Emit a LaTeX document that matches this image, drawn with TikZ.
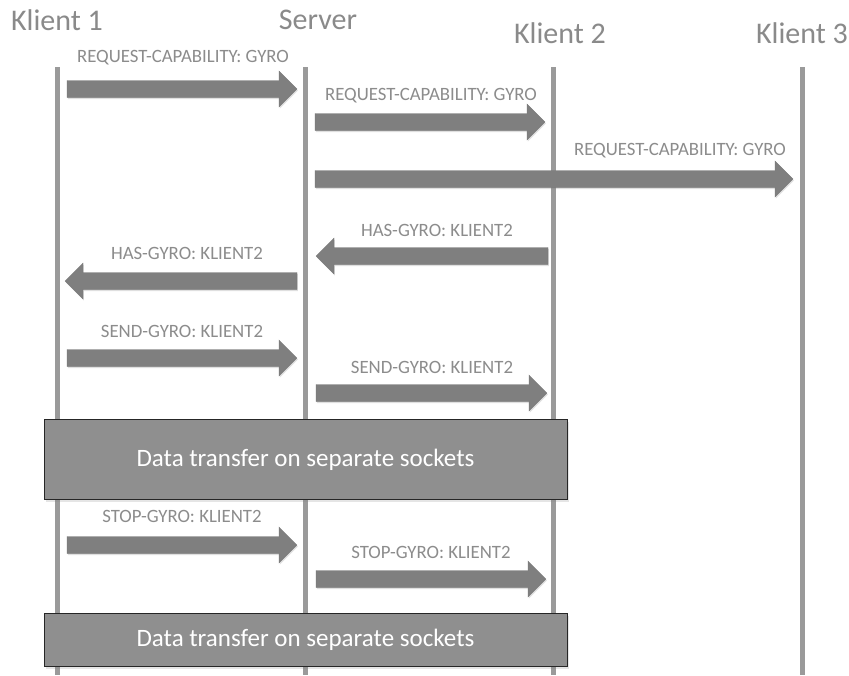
\documentclass[tikz,border=0pt]{standalone}
\usepackage{fontspec}
\setmainfont{Carlito}
\usetikzlibrary{shadows}
\definecolor{lifegray}{HTML}{9A9A9A}
\definecolor{headgray}{HTML}{8A8A8A}
\definecolor{msggray}{HTML}{8C8C8C}
\definecolor{arrowgray}{HTML}{7F7F7F}
\definecolor{boxgray}{HTML}{8F8F8F}
\tikzset{
  lifeline/.style={draw=lifegray, line width=5pt},
  header/.style={text=headgray, font=\fontsize{30}{33}\selectfont, inner sep=0pt},
  msglabel/.style={text=msggray, font=\fontsize{18.8}{21}\selectfont, inner sep=0pt},
  blockarrow/.style={fill=arrowgray, draw=arrowgray!90!black, line width=0.3pt,
    drop shadow={shadow xshift=0.8pt, shadow yshift=-1.5pt, opacity=0.25}},
  phasebox/.style={fill=boxgray, draw=black!85, line width=1pt,
    text=white, font=\fontsize{25}{28}\selectfont,
    drop shadow={shadow xshift=2pt, shadow yshift=-2pt, opacity=0.2}},
}
% right-pointing block arrow: start x, tip x, centre y
\newcommand{\rblock}[3]{%
  \path[blockarrow] (#1,{#3-8.5}) -- ({#2-18},{#3-8.5}) -- ({#2-18},{#3-18})
    -- (#2,#3) -- ({#2-18},{#3+18}) -- ({#2-18},{#3+8.5}) -- (#1,{#3+8.5}) -- cycle;}
% left-pointing block arrow: start x, tip x, centre y
\newcommand{\lblock}[3]{%
  \path[blockarrow] (#1,{#3-8.5}) -- ({#2+18},{#3-8.5}) -- ({#2+18},{#3-18})
    -- (#2,#3) -- ({#2+18},{#3+18}) -- ({#2+18},{#3+8.5}) -- (#1,{#3+8.5}) -- cycle;}
\begin{document}
\begin{tikzpicture}[x=1pt, y=-1pt]
\useasboundingbox[fill=white] (0,0) rectangle (849,675);

% participants
\node[header] (h1) at (57,20) {Klient 1};
\node[header] (hs) at (318,20) {Server};
\node[header] (h2) at (560,33) {Klient 2};
\node[header] (h3) at (802,33) {Klient 3};

% lifelines
\coordinate (k1top) at (57.5,67);  \coordinate (k1bot) at (57.5,675);
\coordinate (svtop) at (305,67);   \coordinate (svbot) at (305,675);
\coordinate (k2top) at (553,67);   \coordinate (k2bot) at (553,675);
\coordinate (k3top) at (802,67);   \coordinate (k3bot) at (802,675);
\draw[lifeline] (k1top) -- (k1bot);
\draw[lifeline] (svtop) -- (svbot);
\draw[lifeline] (k2top) -- (k2bot);
\draw[lifeline] (k3top) -- (k3bot);

% capability request
\node[msglabel] (m1) at (183,58) {REQUEST-CAPABILITY: GYRO};
\rblock{67}{297}{89}
\node[msglabel] (m2) at (431,96) {REQUEST-CAPABILITY: GYRO};
\rblock{315}{545}{122}
\node[msglabel] (m3) at (680,151) {REQUEST-CAPABILITY: GYRO};
\rblock{315}{793}{179}

% capability reply
\node[msglabel] (m4) at (437,230) {HAS-GYRO: KLIENT2};
\lblock{548}{316}{256}
\node[msglabel] (m5) at (187,253) {HAS-GYRO: KLIENT2};
\lblock{297}{65}{281}

% start streaming
\node[msglabel] (m6) at (182,331) {SEND-GYRO: KLIENT2};
\rblock{67}{297}{358}
\node[msglabel] (m7) at (432,367) {SEND-GYRO: KLIENT2};
\rblock{316}{547}{393}

\node[phasebox, minimum width=523pt, minimum height=80pt] (p1) at (305.5,459.5)
  {Data transfer on separate sockets};

% stop streaming
\node[msglabel] (m8) at (182,516) {STOP-GYRO: KLIENT2};
\rblock{67}{297}{545}
\node[msglabel] (m9) at (431,552) {STOP-GYRO: KLIENT2};
\rblock{316}{546}{579}

\node[phasebox, minimum width=523pt, minimum height=53pt] (p2) at (305.5,640)
  {Data transfer on separate sockets};
\end{tikzpicture}
\end{document}
